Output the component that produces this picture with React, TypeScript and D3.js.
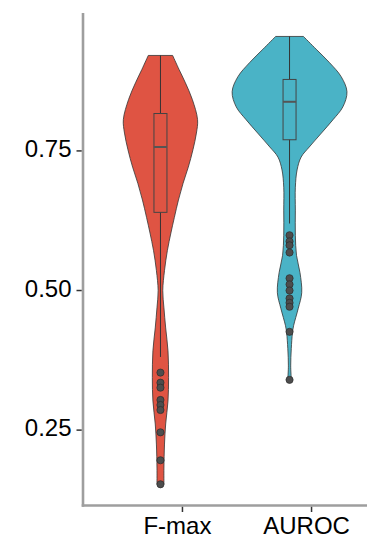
import React, { useEffect, useRef } from 'react';
import * as d3 from 'd3';

// categories and colours
const categories = ['F-max', 'AUROC'];
const fills = ['#DF5443', '#4AB3C6'];

// violin outline: value -> relative density
const fmaxProfileV = [0.921, 0.896, 0.872, 0.842, 0.806, 0.782, 0.752, 0.721, 0.692, 0.662, 0.631, 0.603, 0.572, 0.536, 0.5, 0.469, 0.433, 0.392, 0.344, 0.302, 0.261, 0.225, 0.182, 0.153];
const fmaxProfileD = [0.21, 0.32, 0.43, 0.55, 0.64, 0.62, 0.56, 0.48, 0.39, 0.31, 0.24, 0.18, 0.12, 0.07, 0.04, 0.06, 0.09, 0.13, 0.14, 0.13, 0.09, 0.07, 0.06, 0.06];
const aurocProfileV = [0.955, 0.932, 0.908, 0.883, 0.856, 0.829, 0.806, 0.782, 0.757, 0.739, 0.716, 0.685, 0.644, 0.599, 0.563, 0.532, 0.496, 0.468, 0.437, 0.424, 0.396, 0.365, 0.342];
const aurocProfileD = [0.24, 0.46, 0.69, 0.89, 0.99, 0.92, 0.75, 0.55, 0.34, 0.2, 0.13, 0.1, 0.1, 0.1, 0.12, 0.18, 0.21, 0.15, 0.07, 0.05, 0.03, 0.02, 0.03];

// box stats: [lower whisker, Q1, median, Q3, upper whisker]
const fmaxBox = [0.381, 0.64, 0.757, 0.817, 0.921];
const aurocBox = [0.62, 0.77, 0.838, 0.878, 0.955];

// outliers
const fmaxOutliers = [0.353, 0.335, 0.326, 0.304, 0.295, 0.286, 0.246, 0.196, 0.153];
const aurocOutliers = [0.599, 0.588, 0.581, 0.568, 0.522, 0.511, 0.5, 0.486, 0.478, 0.471, 0.426, 0.34];

const yTicks = [0.25, 0.5, 0.75];

const WIDTH = 379;
const HEIGHT = 539;

const App = () => {
  const ref = useRef<SVGSVGElement | null>(null);

  useEffect(() => {
    const svg = d3.select(ref.current);
    svg.selectAll('*').remove();

    const left = 83;
    const right = 367;
    const top = 13;
    const bottom = 505.5;

    const x = d3.scalePoint().domain(categories).range([left, right]).padding(0.6);
    const y = d3.scaleLinear().domain([0.115, 0.997]).range([bottom, top]);
    const w = d3.scaleLinear().domain([0, 1]).range([0, 58]);

    const groups = [
      { name: 'F-max', v: fmaxProfileV, d: fmaxProfileD, box: fmaxBox, out: fmaxOutliers },
      { name: 'AUROC', v: aurocProfileV, d: aurocProfileD, box: aurocBox, out: aurocOutliers },
    ];

    groups.forEach((g, i) => {
      const cx = x(g.name) as number;
      const pts = g.v.map((v, k) => [v, g.d[k]]);
      const area = d3
        .area<number[]>()
        .y((p) => y(p[0]))
        .x0((p) => cx - w(p[1]))
        .x1((p) => cx + w(p[1]))
        .curve(d3.curveCatmullRom);

      svg
        .append('path')
        .attr('d', area(pts))
        .attr('fill', fills[i])
        .attr('stroke', '#333')
        .attr('stroke-width', 0.8);

      const [lo, q1, med, q3, hi] = g.box;
      const bw = 13;
      // whiskers
      svg.append('line').attr('x1', cx).attr('x2', cx).attr('y1', y(hi)).attr('y2', y(q3))
        .attr('stroke', '#333').attr('stroke-width', 1);
      svg.append('line').attr('x1', cx).attr('x2', cx).attr('y1', y(q1)).attr('y2', y(lo))
        .attr('stroke', '#333').attr('stroke-width', 1);
      // box
      svg.append('rect')
        .attr('x', cx - bw / 2)
        .attr('y', y(q3))
        .attr('width', bw)
        .attr('height', y(q1) - y(q3))
        .attr('fill', 'none')
        .attr('stroke', '#444')
        .attr('stroke-width', 1);
      svg.append('line')
        .attr('x1', cx - bw / 2).attr('x2', cx + bw / 2)
        .attr('y1', y(med)).attr('y2', y(med))
        .attr('stroke', '#555').attr('stroke-width', 2);

      svg.selectAll(`.out_${i}`)
        .data(g.out)
        .join('circle')
        .attr('class', `out_${i}`)
        .attr('cx', cx)
        .attr('cy', (d) => y(d))
        .attr('r', 3.6)
        .attr('fill', '#4D4D4D')
        .attr('stroke', '#2b2b2b')
        .attr('stroke-width', 0.7);
    });

    // axes lines
    svg.append('line').attr('x1', left).attr('x2', left).attr('y1', top).attr('y2', bottom + 1.3)
      .attr('stroke', '#9E9E9E').attr('stroke-width', 2.6);
    svg.append('line').attr('x1', left - 1.3).attr('x2', right).attr('y1', bottom).attr('y2', bottom)
      .attr('stroke', '#9E9E9E').attr('stroke-width', 2.6);

    const font = '"Liberation Sans", Arial, sans-serif';

    // y ticks
    const yt = svg.selectAll('.ytick').data(yTicks).join('g').attr('class', 'ytick');
    yt.append('line')
      .attr('x1', left - 6.5).attr('x2', left - 1.3)
      .attr('y1', (d) => y(d)).attr('y2', (d) => y(d))
      .attr('stroke', '#333').attr('stroke-width', 1.5);
    yt.append('text')
      .attr('x', 71.5)
      .attr('y', (d) => y(d) + 6)
      .attr('text-anchor', 'end')
      .attr('font-family', font)
      .attr('font-size', 24)
      .attr('fill', '#000')
      .text((d) => d3.format('.2f')(d));

    // x ticks
    const xt = svg.selectAll('.xtick').data(categories).join('g').attr('class', 'xtick');
    xt.append('line')
      .attr('x1', (d) => (x(d) as number) + 22).attr('x2', (d) => (x(d) as number) + 22)
      .attr('y1', bottom + 1.3).attr('y2', bottom + 6.5)
      .attr('stroke', '#333').attr('stroke-width', 1.5);
    xt.append('text')
      .attr('x', (d) => (x(d) as number) + 17)
      .attr('y', 534)
      .attr('text-anchor', 'middle')
      .attr('font-family', font)
      .attr('font-size', 24)
      .attr('fill', '#000')
      .text((d) => d);
  }, []);

  return (
    <svg
      ref={ref}
      width={WIDTH}
      height={HEIGHT}
      style={{ position: 'absolute', left: 0, top: 0, background: '#fff' }}
    />
  );
};

export default App;
